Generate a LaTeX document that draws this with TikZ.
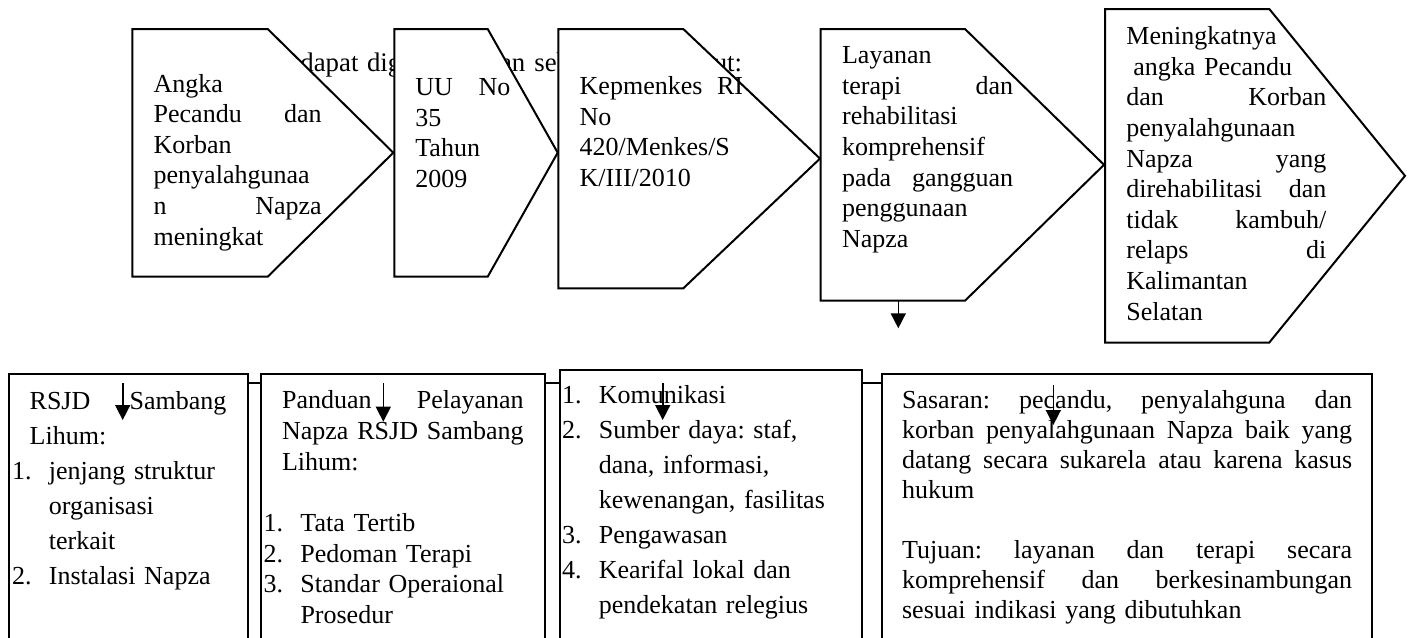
\documentclass[tikz,border=0pt]{standalone}
\usepackage{fontspec}
\setmainfont{Liberation Serif}
\usetikzlibrary{arrows.meta}
\frenchspacing
\newcommand\jfill{\hskip 0pt plus 1filll\relax}
\newcommand\itm[1]{\makebox[18.4pt][l]{#1}}
\newcommand\ind{\hspace*{18.4pt}}

\begin{document}
\begin{tikzpicture}[x=0.5pt,y=-0.5pt,
  chev/.style={draw, fill=white, line width=1pt, line join=miter},
  panel/.style={draw, line width=1pt, anchor=north west, inner sep=0pt},
  txt/.style={anchor=north west, inner sep=0pt, align=left,
    font=\fontsize{13}{15.3}\selectfont},
  link/.style={line width=1pt},
  downarrow/.style={line width=0.8pt, -{Triangle[width=7.5pt,length=7.5pt]}}]
\useasboundingbox (0,0) rectangle (1413,637);
\clip (0,0) rectangle (1413,637);

% line of the page text, mostly hidden behind the chevrons
\node[anchor=base west, inner sep=0pt, font=\fontsize{13.4}{15}\selectfont] (intro)
  at (300,71.7) {dapat\hspace{4.3pt}dig\hspace{9.2pt}ambarkan\hspace{4.5pt}sebagai\hspace{22pt}berikut:};

% chevrons
\draw[chev] (132.3,29) -- (267.7,29) -- (393.3,152.7) -- (267.7,276.7) -- (132.3,276.7) -- cycle;
\draw[chev] (394.3,29) -- (487.7,29) -- (557.7,152.7) -- (487.7,276.7) -- (394.3,276.7) -- cycle;
\draw[chev] (558.3,29) -- (683.3,29) -- (820,158.6) -- (683.3,288.3) -- (558.3,288.3) -- cycle;
\draw[chev] (820.7,29) -- (965,29) -- (1104,164.8) -- (965,300.7) -- (820.7,300.7) -- cycle;
\draw[chev] (1105,9) -- (1269.3,9) -- (1405,175.8) -- (1269.3,342.5) -- (1105,342.5) -- cycle;

\node[txt, text width=84pt] (angka) at (153.3,70.3)
  {\strut Angka\\ Pecandu\jfill dan\\ Korban\\ penyalahgunaa\\ n\jfill Napza\\ meningkat};
\node[txt, text width=47.5pt] (uu) at (415,73.6)
  {\strut UU\jfill No\\ 35\\ Tahun\\ 2009};
\node[txt, text width=81.7pt] (kepmenkes) at (579.3,72.6)
  {\strut Kepmenkes\jfill RI\\ No\\ 420/Menkes/S\\ K/III/2010};
\node[txt, text width=85.5pt] (layanan) at (841.7,41.9)
  {\strut Layanan\\ terapi\jfill dan\\ rehabilitasi\\ komprehensif\\ pada\jfill gangguan\\ penggunaan\\ Napza};
\node[txt, text width=100pt] (hasil) at (1126,22.9)
  {\strut Meningkatnya\\ \hspace*{3.5pt}angka Pecandu\\ dan\jfill Korban\\ penyalahgunaan\\ Napza\jfill yang\\
   direhabilitasi\jfill dan\\ tidak\jfill kambuh/\\ relaps\jfill di\\ Kalimantan\\ Selatan};

% lower row
\node[panel, minimum width=119.2pt, minimum height=145pt] (rsjd) at (8.3,373.3) {};
\node[panel, minimum width=142.2pt, minimum height=145pt] (panduan) at (260,373.3) {};
\node[panel, minimum width=151pt, minimum height=147pt] (impl) at (559,369.3) {};
\node[panel, minimum width=245pt, minimum height=145pt] (sasaran) at (881,373.3) {};

\coordinate (j1) at ([yshift=-5pt]rsjd.north east);
\draw[link] (j1) -- (j1 -| panduan.west);
\coordinate (j2) at ([yshift=-4.7pt]panduan.north east);
\draw[link] (j2) -- (j2 -| impl.west);
\coordinate (j3) at ([yshift=-4.7pt]sasaran.north west);
\draw[link] (impl.east |- j3) -- (j3);

\node[txt, text width=107.2pt, font=\fontsize{13}{17.5}\selectfont] (rsjdtext) at (11.7,384.8)
  {\strut\hspace*{8.8pt}RSJD\jfill Sambang\\ \hspace*{8.8pt}Lihum:\\
   \itm{1.}jenjang struktur\\ \ind organisasi\\ \ind terkait\\ \itm{2.}Instalasi Napza};
\node[txt, text width=130pt, font=\fontsize{13}{15.35}\selectfont] (pandutext) at (263.3,386.8)
  {\strut\hspace*{9.2pt}Panduan\jfill Pelayanan\\ \hspace*{9.2pt}Napza\jfill RSJD\jfill Sambang\\
   \hspace*{9.2pt}Lihum:\\[15.35pt]
   \itm{1.}Tata Tertib\\ \itm{2.}Pedoman Terapi\\ \itm{3.}Standar Operaional\\ \ind Prosedur};
\node[txt, text width=135pt, font=\fontsize{13}{17.5}\selectfont] (impltext) at (561.7,378.8)
  {\strut\itm{1.}Komunikasi\\ \itm{2.}Sumber daya: staf,\\ \ind dana, informasi,\\
   \ind kewenangan, fasilitas\\ \itm{3.}Pengawasan\\ \itm{4.}Kearifal lokal dan\\ \ind pendekatan relegius};
\node[txt, text width=225pt, font=\fontsize{13}{15}\selectfont] (sasarantext) at (901.7,387.3)
  {\strut Sasaran:\jfill pecandu,\jfill penyalahguna\jfill dan\\
   korban\jfill penyalahgunaan\jfill Napza\jfill baik\jfill yang\\
   datang\jfill secara\jfill sukarela\jfill atau\jfill karena\jfill kasus\\
   hukum\\[15pt]
   Tujuan:\jfill layanan\jfill dan\jfill terapi\jfill secara\\
   komprehensif\jfill dan\jfill berkesinambungan\\
   sesuai indikasi yang dibutuhkan};

% arrows
\coordinate (lay-s) at (898.3,300.7);
\coordinate (lay-e) at (898.3,328.3);
\draw[downarrow] (lay-s) -- (lay-e);
\foreach \n/\x/\ya/\yb in {1/122.7/383/420, 2/383.3/383/421.7, 3/662.7/383/420, 4/1053.3/385/425} {
  \coordinate (s\n) at (\x,\ya);
  \coordinate (e\n) at (\x,\yb);
  \draw[downarrow] (s\n) -- (e\n);
}
\end{tikzpicture}
\end{document}
